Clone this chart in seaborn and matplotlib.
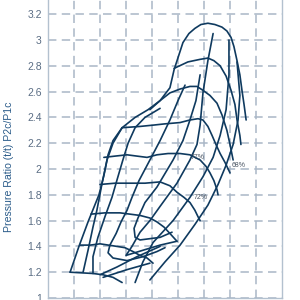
import matplotlib
matplotlib.use("Agg")
import matplotlib.pyplot as plt
import seaborn as sns
import pandas as pd

# ---------------- data (flow units, pressure ratio) ----------------
env_x = [0.85,1.19,1.54,1.96,2.15,2.31,2.50,2.85,3.35,3.85,4.31,4.69,4.85,5.19,5.42,5.65,5.88,6.15,6.42,6.69,6.88,7.04,7.15,7.27,7.38,7.46,7.54,7.62]
env_y = [1.20,1.40,1.59,1.80,1.95,2.11,2.22,2.32,2.40,2.46,2.53,2.63,2.77,2.98,3.05,3.09,3.12,3.13,3.12,3.10,3.07,3.02,2.95,2.84,2.73,2.61,2.50,2.38]

s1_x = [0.85,1.73,2.12,2.50,2.85]
s1_y = [1.20,1.19,1.18,1.16,1.12]
s2_x = [1.23,1.62,2.00,2.65,2.96,3.27,3.54,3.81,4.04]
s2_y = [1.41,1.41,1.42,1.40,1.39,1.36,1.33,1.31,1.27]
s3_x = [1.65,2.19,2.77,3.54,3.92,4.19,4.46,4.69,4.96]
s3_y = [1.65,1.66,1.66,1.64,1.62,1.59,1.55,1.50,1.44]
s4_x = [2.00,2.58,3.15,3.73,4.31,4.69,4.96,5.23,5.46,5.65,5.77,5.85]
s4_y = [1.88,1.89,1.89,1.89,1.90,1.87,1.82,1.78,1.74,1.68,1.63,1.60]
s5_x = [2.15,2.58,3.04,3.42,3.81,4.19,4.62,5.08,5.46,5.85,6.08,6.23,6.38,6.50,6.54]
s5_y = [2.09,2.10,2.11,2.10,2.09,2.11,2.12,2.12,2.11,2.07,2.02,1.97,1.91,1.84,1.80]
s6_x = [2.85,3.54,4.04,4.50,5.08,5.46,5.77,5.96,6.15,6.31,6.46,6.62,6.81,7.00]
s6_y = [2.32,2.33,2.34,2.35,2.36,2.38,2.39,2.38,2.33,2.26,2.19,2.12,2.05,1.97]
s7_x = [3.92,4.31,4.69,5.08,5.46,5.73,5.96,6.23,6.50,6.69,6.88,7.00,7.12]
s7_y = [2.46,2.53,2.59,2.62,2.64,2.64,2.61,2.57,2.51,2.42,2.30,2.19,2.07]
s8_x = [4.85,5.38,5.85,6.15,6.38,6.62,6.85,7.04,7.19,7.27,7.38,7.42]
s8_y = [2.78,2.83,2.85,2.86,2.84,2.80,2.72,2.61,2.50,2.38,2.26,2.19]

q1_x = [1.35,1.54,1.73,1.88,2.08,2.27,2.50,2.85]
q1_y = [1.20,1.37,1.55,1.68,1.89,2.07,2.20,2.32]
q2_x = [1.73,1.73,1.92,2.19,2.46,2.69,2.88,3.08,3.35,3.73,4.31]
q2_y = [1.19,1.32,1.47,1.63,1.78,1.94,2.07,2.20,2.32,2.40,2.47]
q3_x = [5.27,5.00,4.69,4.31,3.92,3.50,3.23,3.04,2.81,2.62,2.38,2.31,2.50,3.04,3.65,4.19,4.50]
q3_y = [2.65,2.53,2.38,2.22,2.07,1.91,1.78,1.68,1.59,1.50,1.41,1.35,1.31,1.29,1.32,1.36,1.39]
q4_x = [5.85,5.69,5.46,5.19,4.81,4.19,3.73,3.46,3.31,3.35,3.54,4.31,4.77]
q4_y = [2.73,2.53,2.38,2.22,2.07,1.86,1.74,1.62,1.54,1.47,1.45,1.47,1.51]
q5_x = [6.35,6.15,5.96,5.85,5.73,5.46,4.96,4.31,3.92,3.54,3.23,3.00,3.65,4.31,4.96]
q5_y = [3.05,2.84,2.59,2.34,2.19,2.07,1.89,1.71,1.60,1.51,1.40,1.33,1.37,1.41,1.44]
q6_x = [6.96,6.96,6.85,6.62,6.35,5.96,5.46,4.81,4.04,3.65,3.35]
q6_y = [3.00,2.73,2.46,2.26,2.09,1.94,1.78,1.60,1.43,1.28,1.12]
q7_x = [7.27,7.38,7.31,7.12,6.85,6.54,6.15,5.65,5.08,4.50,3.92]
q7_y = [2.83,2.57,2.38,2.19,2.03,1.88,1.72,1.57,1.41,1.28,1.14]
b1_x = [2.00,2.65,3.42,4.31]
b1_y = [1.18,1.24,1.32,1.40]
b2_x = [2.12,3.04,3.92]
b2_y = [1.16,1.22,1.27]

labels = ["77%", "72%", "68%"]
label_x = [5.50, 5.62, 7.08]
label_y = [2.09, 1.78, 2.03]

y_ticks = [1.0,1.2,1.4,1.6,1.8,2.0,2.2,2.4,2.6,2.8,3.0,3.2]
y_tick_labels = ["1","1.2","1.4","1.6","1.8","2","2.2","2.4","2.6","2.8","3","3.2"]
x_grid = [1,2,3,4,5,6,7,8]

curves = {
    "env": (env_x, env_y), "s1": (s1_x, s1_y), "s2": (s2_x, s2_y), "s3": (s3_x, s3_y),
    "s4": (s4_x, s4_y), "s5": (s5_x, s5_y), "s6": (s6_x, s6_y), "s7": (s7_x, s7_y),
    "s8": (s8_x, s8_y), "q1": (q1_x, q1_y), "q2": (q2_x, q2_y), "q3": (q3_x, q3_y),
    "q4": (q4_x, q4_y), "q5": (q5_x, q5_y), "q6": (q6_x, q6_y), "q7": (q7_x, q7_y),
    "b1": (b1_x, b1_y), "b2": (b2_x, b2_y),
}
rows = []
for name, (xs, ys) in curves.items():
    for i, (a, b) in enumerate(zip(xs, ys)):
        rows.append({"curve": name, "order": i, "flow": a, "pr": b})
df = pd.DataFrame(rows)

# ---------------- style ----------------
sns.set_style("white")
plt.rcParams["font.family"] = ["Liberation Sans", "DejaVu Sans"]

LINE = "#0f3a5f"
GRID = "#a9b7c6"
TICK = "#5a6d84"

fig = plt.figure(figsize=(3, 3), dpi=100)
ax = fig.add_axes([48/300, 2/300, 234/300, 298/300])

for name in curves:
    sub = df[df.curve == name]
    sns.lineplot(data=sub, x="flow", y="pr", sort=False, estimator=None,
                 color=LINE, linewidth=1.2, ax=ax)
ax.lines and [ln.set_solid_joinstyle("round") for ln in ax.lines]

for t, lx, ly in zip(labels, label_x, label_y):
    ax.text(lx, ly, t, fontsize=5, color="#4a5563", ha="left", va="center")

ax.set_xlim(0, 9)
ax.set_ylim(1.0, 1 + 298/129)
ax.set_xticks(x_grid)
ax.set_xticklabels([])
ax.tick_params(axis="x", length=0)
ax.set_yticks(y_ticks)
ax.set_yticklabels(y_tick_labels)
ax.tick_params(axis="y", length=3, width=1, color=GRID, labelcolor=TICK,
               labelsize=7.5, pad=1.5)
ax.grid(True, color=GRID, linestyle=(0, (5.5, 3.5)), linewidth=1.1)
ax.set_axisbelow(True)
for side in ["left", "right", "bottom"]:
    ax.spines[side].set_color("#b3c1cf")
    ax.spines[side].set_linewidth(1.0)
ax.spines["top"].set_visible(False)
ax.set_xlabel("")
ax.set_ylabel("Pressure Ratio (t/t) P2c/P1c", fontsize=7.6, color="#2b5c8a")
ax.yaxis.set_label_coords(-0.145, 0.44)

fig.savefig("out.png", dpi=100)
